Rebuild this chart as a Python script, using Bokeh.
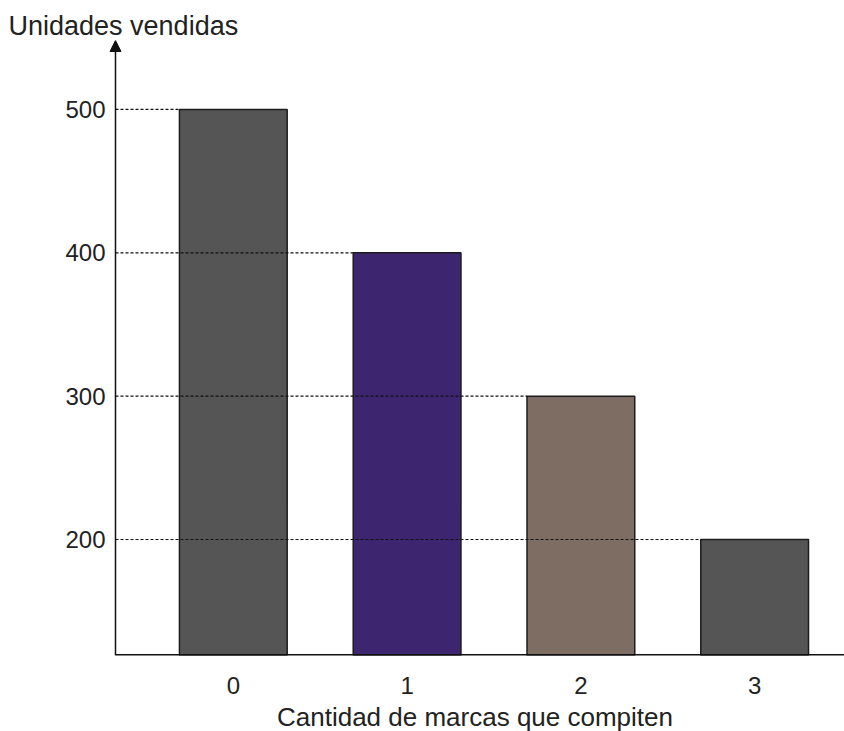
from bokeh.plotting import figure
from bokeh.models import ColumnDataSource, Range1d, FixedTicker, Title, Arrow, NormalHead
from bokeh.embed import file_html
from bokeh.resources import INLINE

# Units sold by number of competing brands
marcas = [0, 1, 2, 3]
unidades = [500, 400, 300, 200]
colores = ["#555555", "#3e2570", "#7e6d62", "#555555"]
ticks_y = [200, 300, 400, 500]

FONT = "Liberation Sans"
BAR_W = 0.62
AXIS_X = -0.678          # where the vertical axis crosses
X0, X1 = -0.7355, 3.517  # a little room left of the axis for the arrow head
Y0, Y1 = 119.07, 548.1

p = figure(frame_width=739, frame_height=615, output_backend="svg", toolbar_location=None,
           x_range=Range1d(X0, X1), y_range=Range1d(Y0, Y1),
           min_border_left=105, min_border_right=0, min_border_top=40, min_border_bottom=76)
p.outline_line_color = None
p.grid.visible = False
p.background_fill_color = "white"

src = ColumnDataSource(dict(x=marcas, top=unidades, color=colores,
                            left=[m - BAR_W / 2 for m in marcas],
                            axis=[AXIS_X] * len(marcas)))

p.vbar(x="x", top="top", bottom=0, width=BAR_W, fill_color="color",
       line_color="#1c1c1c", line_width=1.5, source=src)

# dashed reference lines from the vertical axis to each bar's top-left corner
p.segment(x0="axis", y0="top", x1="left", y1="top", line_color="#111111",
          line_width=1.2, line_dash="3 2", source=src)

# horizontal axis line starting at the vertical axis
p.segment(x0=[AXIS_X], y0=[Y0], x1=[X1], y1=[Y0], line_color="#111111", line_width=3)

# x axis: labels only
xa = p.xaxis[0]
xa.ticker = FixedTicker(ticks=marcas)
xa.axis_line_color = None
xa.major_tick_line_color = None
xa.minor_tick_line_color = None
xa.major_label_text_font = FONT
xa.major_label_text_font_size = "24px"
xa.major_label_text_color = "#222222"
xa.major_label_standoff = 15
xa.axis_label = "Cantidad de marcas que compiten"
xa.axis_label_text_font = FONT
xa.axis_label_text_font_size = "26px"
xa.axis_label_text_font_style = "normal"
xa.axis_label_text_color = "#222222"
xa.axis_label_standoff = 5

# y axis: labels only, the axis line is drawn as an arrow
ya = p.yaxis[0]
ya.ticker = FixedTicker(ticks=ticks_y)
ya.axis_line_color = None
ya.major_tick_line_color = None
ya.minor_tick_line_color = None
ya.major_tick_out = 0
ya.major_tick_in = 0
ya.major_label_text_font = FONT
ya.major_label_text_font_size = "24px"
ya.major_label_text_color = "#222222"
ya.major_label_standoff = 0

p.add_layout(Arrow(end=NormalHead(size=11, fill_color="#111111", line_color="#111111"),
                   x_start=AXIS_X, y_start=Y0, x_end=AXIS_X, y_end=Y1,
                   line_color="#111111", line_width=1.5))

p.add_layout(Title(text="Unidades vendidas", align="left", offset=-97,
                   text_font=FONT, text_font_size="27px", text_font_style="normal",
                   text_color="#222222", standoff=0), "above")

open("out.html", "w").write(file_html(p, INLINE))
